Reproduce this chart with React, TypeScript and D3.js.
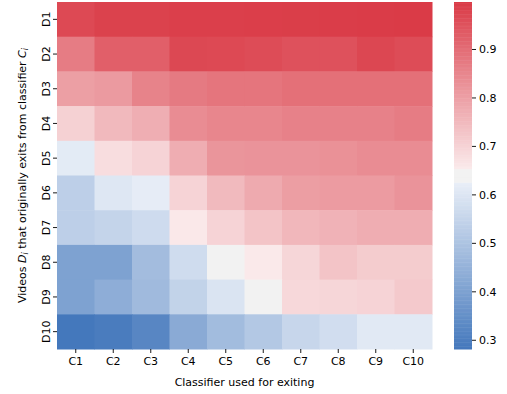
import React, { useEffect, useRef } from "react";
import * as d3 from "d3";

const rows = ["D1", "D2", "D3", "D4", "D5", "D6", "D7", "D8", "D9", "D10"];
const cols = ["C1", "C2", "C3", "C4", "C5", "C6", "C7", "C8", "C9", "C10"];

// exit accuracy, one array per row (D_i), columns C1..C10
const d1 = [0.97, 0.985, 0.985, 0.99, 0.99, 0.992, 0.993, 0.994, 0.996, 0.998];
const d2 = [0.87, 0.928, 0.928, 0.972, 0.97, 0.965, 0.955, 0.955, 0.975, 0.965];
const d3row = [0.803, 0.813, 0.858, 0.875, 0.885, 0.885, 0.895, 0.895, 0.895, 0.895];
const d4 = [0.705, 0.752, 0.773, 0.84, 0.852, 0.852, 0.86, 0.86, 0.86, 0.87];
const d5 = [0.615, 0.68, 0.7, 0.775, 0.822, 0.825, 0.825, 0.83, 0.84, 0.84];
const d6 = [0.535, 0.603, 0.62, 0.7, 0.75, 0.78, 0.805, 0.81, 0.81, 0.825];
const d7 = [0.535, 0.55, 0.57, 0.66, 0.7, 0.73, 0.755, 0.765, 0.775, 0.775];
const d8 = [0.403, 0.403, 0.48, 0.572, 0.637, 0.658, 0.695, 0.73, 0.715, 0.715];
const d9 = [0.403, 0.436, 0.474, 0.545, 0.595, 0.637, 0.69, 0.695, 0.7, 0.72];
const d10 = [0.282, 0.295, 0.323, 0.428, 0.478, 0.513, 0.556, 0.576, 0.61, 0.61];
const values = [d1, d2, d3row, d4, d5, d6, d7, d8, d9, d10];

const cbarTicks = [0.3, 0.4, 0.5, 0.6, 0.7, 0.8, 0.9];

export default function App() {
  const ref = useRef<SVGSVGElement>(null);

  useEffect(() => {
    const svg = d3.select(ref.current);
    svg.selectAll("*").remove();

    const font = "DejaVu Sans, sans-serif";
    const left = 57, right = 432, top = 2, bottom = 349;

    const flat = values.flat();
    const vmin = d3.min(flat) as number;
    const vmax = d3.max(flat) as number;

    // seaborn-like diverging palette (250 -> 10, light centre, sep=10)
    const t = (f: number) => vmin + f * (vmax - vmin);
    const color = d3
      .scaleLinear<string>()
      .domain([t(0), t(122 / 255), t(123 / 255), t(132 / 255), t(133 / 255), t(1)])
      .range(["#4478bc", "#e8eef7", "#f2f2f2", "#f2f2f2", "#faeaeb", "#da3b47"])
      .interpolate(d3.interpolateRgb)
      .clamp(true);

    const x = d3.scaleBand().domain(cols).range([left, right]);
    const y = d3.scaleBand().domain(rows).range([top, bottom]);

    const g = svg.append("g");
    values.forEach((row, i) => {
      g.selectAll(null)
        .data(row)
        .enter()
        .append("rect")
        .attr("x", (_, j) => x(cols[j]) as number)
        .attr("y", y(rows[i]) as number)
        .attr("width", x.bandwidth() + 0.5)
        .attr("height", y.bandwidth() + 0.5)
        .attr("fill", (d) => color(d));
    });

    // x axis
    const xa = svg.append("g").attr("transform", `translate(0,${bottom})`);
    cols.forEach((c) => {
      const cx = (x(c) as number) + x.bandwidth() / 2;
      xa.append("line").attr("x1", cx).attr("x2", cx).attr("y1", 0).attr("y2", 4).attr("stroke", "#000").attr("stroke-width", 0.9);
      xa.append("text").attr("x", cx).attr("y", 16).attr("text-anchor", "middle").attr("font-family", font).attr("font-size", 11).attr("fill", "#000").text(c);
    });
    svg.append("text").attr("x", (left + right) / 2).attr("y", 386).attr("text-anchor", "middle").attr("font-family", font).attr("font-size", 11).attr("fill", "#000").text("Classifier used for exiting");

    // y axis
    rows.forEach((r) => {
      const cy = (y(r) as number) + y.bandwidth() / 2;
      svg.append("line").attr("x1", left - 4).attr("x2", left).attr("y1", cy).attr("y2", cy).attr("stroke", "#000").attr("stroke-width", 0.9);
      svg.append("text").attr("transform", `translate(${left - 7},${cy}) rotate(-90)`).attr("text-anchor", "middle").attr("font-family", font).attr("font-size", 11).attr("fill", "#000").text(r);
    });

    const yl = svg.append("text").attr("transform", `translate(26,${(top + bottom) / 2}) rotate(-90)`).attr("text-anchor", "middle").attr("font-family", font).attr("font-size", 11).attr("fill", "#000");
    yl.append("tspan").text("Videos ");
    yl.append("tspan").attr("font-style", "italic").text("D");
    yl.append("tspan").attr("font-size", 8).attr("font-style", "italic").attr("dy", 2).text("i");
    yl.append("tspan").attr("dy", -2).text(" that originally exits from classifier ");
    yl.append("tspan").attr("font-style", "italic").text("C");
    yl.append("tspan").attr("font-size", 8).attr("font-style", "italic").attr("dy", 2).text("i");

    // colorbar
    const cbx = 454, cbw = 18;
    const cy = d3.scaleLinear().domain([vmin, vmax]).range([bottom, top]);
    const steps = d3.range(0, 256);
    svg.append("g")
      .selectAll("rect")
      .data(steps)
      .enter()
      .append("rect")
      .attr("x", cbx)
      .attr("y", (s) => cy(t((s + 1) / 256)))
      .attr("width", cbw)
      .attr("height", (s) => cy(t(s / 256)) - cy(t((s + 1) / 256)) + 0.5)
      .attr("fill", (s) => color(t((s + 0.5) / 256)));

    cbarTicks.forEach((v) => {
      const py = cy(v);
      svg.append("line").attr("x1", cbx + cbw).attr("x2", cbx + cbw + 4).attr("y1", py).attr("y2", py).attr("stroke", "#000").attr("stroke-width", 0.9);
      svg.append("text").attr("x", cbx + cbw + 7).attr("y", py).attr("dy", "0.35em").attr("font-family", font).attr("font-size", 11).attr("fill", "#000").text(d3.format(".1f")(v));
    });
  }, []);

  return <svg ref={ref} width={507} height={394} style={{ position: "absolute", left: 0, top: 0 }} />;
}
